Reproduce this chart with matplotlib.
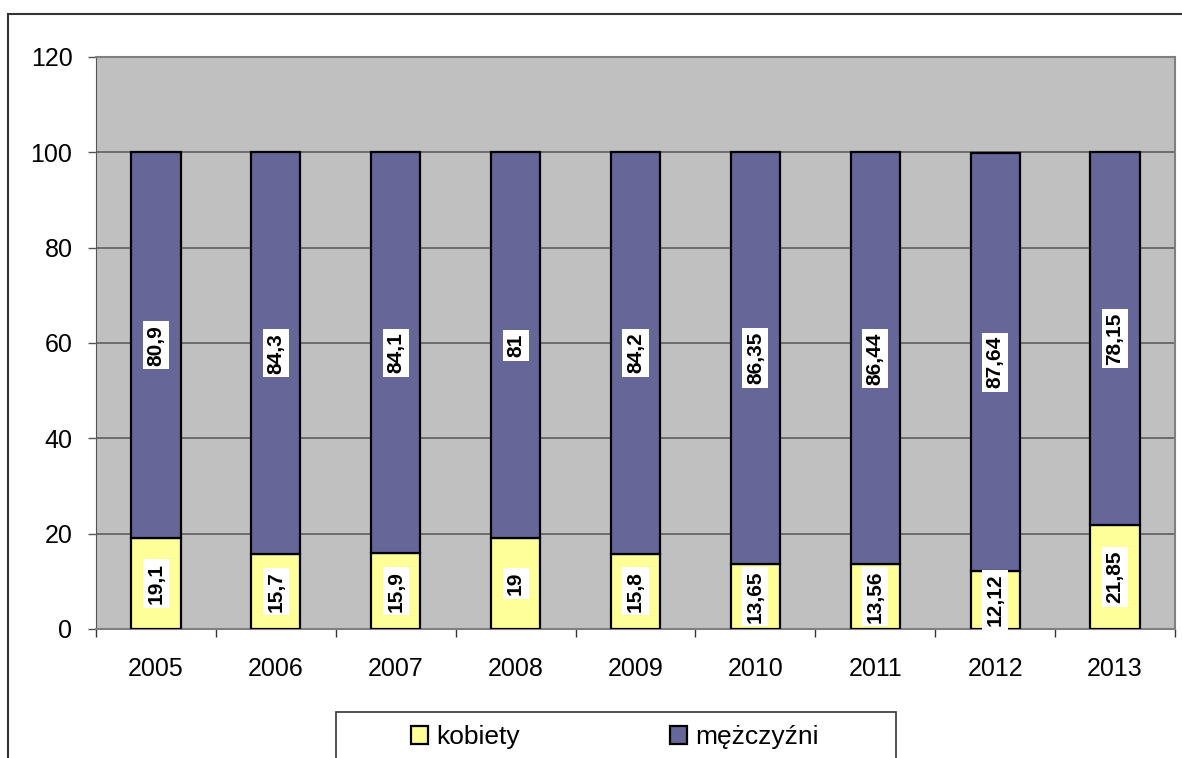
import matplotlib
matplotlib.use("Agg")
import matplotlib.pyplot as plt
from matplotlib.patches import Rectangle

plt.rcParams["font.family"] = ["Liberation Sans", "DejaVu Sans"]

# data
years = ["2005", "2006", "2007", "2008", "2009", "2010", "2011", "2012", "2013"]
kobiety = [19.1, 15.7, 15.9, 19, 15.8, 13.65, 13.56, 12.12, 21.85]
mezczyzni = [80.9, 84.3, 84.1, 81, 84.2, 86.35, 86.44, 87.64, 78.15]
yticks = [0, 20, 40, 60, 80, 100, 120]


def fmt(v):
    return ("%g" % v).replace(".", ",")


W, H = 1182, 758
fig = plt.figure(figsize=(W / 100, H / 100), dpi=100)
ax = fig.add_axes([96 / W, (H - 629) / H, (1175 - 96) / W, (629 - 57) / H])
ax.set_facecolor("#C0C0C0")

x = range(len(years))
b1 = ax.bar(x, kobiety, width=0.41, color="#FFFF99", edgecolor="black",
            linewidth=1.6, label="kobiety", zorder=3)
b2 = ax.bar(x, mezczyzni, width=0.41, bottom=kobiety, color="#666699",
            edgecolor="black", linewidth=1.6, label="mężczyźni", zorder=3)

box = dict(facecolor="white", edgecolor="none", pad=2.5)
for bars, vals in ((b1, kobiety), (b2, mezczyzni)):
    ax.bar_label(bars, labels=[fmt(v) for v in vals], label_type="center",
                 rotation=90, fontsize=15, fontweight="bold", bbox=box,
                 zorder=4)

ax.set_xlim(-0.5, len(years) - 0.5)
ax.set_ylim(0, 120)
ax.set_yticks(yticks)
ax.yaxis.grid(True, color="#555555", linewidth=1.1, zorder=0)
ax.set_xticks(list(x))
ax.set_xticklabels(years)
ax.set_xticks([i - 0.5 for i in range(len(years) + 1)], minor=True)
ax.tick_params(axis="x", which="major", length=0, pad=20, labelsize=18)
ax.tick_params(axis="x", which="minor", length=6, width=1, color="#333333")
ax.tick_params(axis="y", length=6, width=1, pad=11, labelsize=18,
               color="#555555")

for side in ("top", "right", "bottom"):
    ax.spines[side].set_color("#808080")
    ax.spines[side].set_linewidth(1.5)
ax.spines["left"].set_color("#555555")

# outer chart border
fig.patches.append(Rectangle((8 / W, -0.1), 1.2, (H - 14) / H + 0.1,
                             transform=fig.transFigure, fill=False,
                             edgecolor="#333333", linewidth=1.5))
# legend border
fig.patches.append(Rectangle((336 / W, -0.1), (896 - 336) / W,
                             (H - 712) / H + 0.1, transform=fig.transFigure,
                             fill=False, edgecolor="#333333", linewidth=1.2))

fig.legend(handles=[b1, b2], loc="center left", ncol=2, frameon=False,
           bbox_to_anchor=(411 / W, (H - 737) / H), fontsize=19,
           borderpad=0, borderaxespad=0,
           handlelength=0.65, handleheight=0.65, handletextpad=0.3,
           columnspacing=5.7)

fig.savefig("out.png", dpi=100)
